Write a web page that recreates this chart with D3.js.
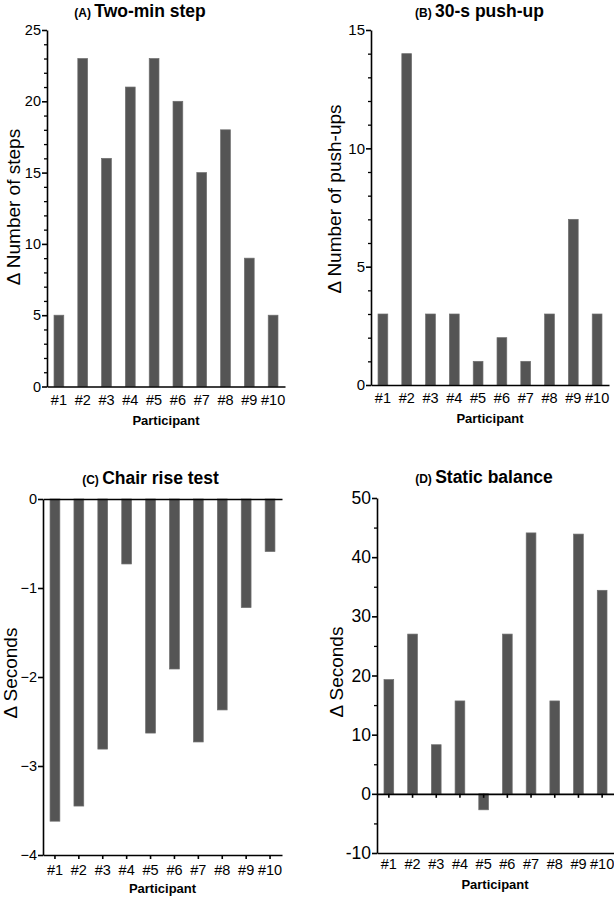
<!DOCTYPE html>
<html><head><meta charset="utf-8">
<script src="https://cdn.jsdelivr.net/npm/d3@7"></script>
<style>body{margin:0;background:#fff}svg{display:block;font-family:"Liberation Sans",Arial,sans-serif}</style>
</head><body><svg id="c" width="614" height="898"></svg>
<script>
const participants = ["#1","#2","#3","#4","#5","#6","#7","#8","#9","#10"];
const stepValues = [5,23,16,21,23,20,15,18,9,5];
const pushupValues = [3,14,3,3,1,2,1,3,7,3];
const chairValues = [-3.62,-3.45,-2.81,-0.73,-2.63,-1.91,-2.73,-2.37,-1.22,-0.59];
const balanceValues = [19.3,27,8.3,15.7,-2.7,27,44.1,15.7,43.9,34.4];
const stepTicks = [0,5,10,15,20,25];
const pushupTicks = [0,5,10,15];
const chairTicks = [0,-1,-2,-3,-4];
const balanceTicks = [-10,0,10,20,30,40,50];
const stepMinor = d3.range(0,26,1).filter(v=>v%5!==0);
const pushupMinor = d3.range(0,16,1).filter(v=>v%5!==0);
const chairMinor = [];
const balanceMinor = [-5,5,15,25,35,45];

const svg = d3.select("#c");
const FONT = "'Liberation Sans',Arial,sans-serif";
const hyphenFmt = d => String(d);
const minusFmt = d => (d < 0 ? "\u2212" + Math.abs(d) : String(d));
const panels = [
  {letter:"(A)", title:"Two-min step", ylab:"Δ Number of steps", values:stepValues, ticks:stepTicks, minor:stepMinor,
   domain:[0,25], x0:47, x1:285, yb:386.5, yt:30, tcx:140, tby:16.5, ylx:20, ylc:207, lcx:166, lby:425, xlabOff:8.5, mode:"zero", tfs:14.5, fmt:hyphenFmt},
  {letter:"(B)", title:"30-s push-up", ylab:"Δ Number of push-ups", values:pushupValues, ticks:pushupTicks, minor:pushupMinor,
   domain:[0,15], x0:371, x1:609, yb:385, yt:30, tcx:479.5, tby:16.5, ylx:341, ylc:199, lcx:490, lby:423, xlabOff:8, mode:"zero", tfs:15, fmt:hyphenFmt},
  {letter:"(C)", title:"Chair rise test", ylab:"Δ Seconds", values:chairValues, ticks:chairTicks, minor:chairMinor,
   domain:[-4,0], x0:43, x1:282, yb:855, yt:499, tcx:150.5, tby:484, ylx:17, ylc:673, lcx:162.5, lby:893, xlabOff:10, mode:"bottomTicks", tfs:14.5, fmt:minusFmt},
  {letter:"(D)", title:"Static balance", ylab:"Δ Seconds", values:balanceValues, ticks:balanceTicks, minor:balanceMinor,
   domain:[-10,50], x0:377, x1:614, yb:853, yt:498, tcx:484, tby:483, ylx:343, ylc:672, lcx:495, lby:889, xlabOff:6, mode:"zeroTicks", tfs:17.5, fmt:hyphenFmt}
];

panels.forEach(p => {
  const g = svg.append("g");
  const x = d3.scaleBand().domain(participants).range([p.x0, p.x1]).paddingInner(0.59).paddingOuter(0.295);
  const y = d3.scaleLinear().domain(p.domain).range([p.yb, p.yt]);

  g.selectAll("rect.bar").data(p.values).join("rect")
    .attr("class","bar")
    .attr("x",(d,i)=>x(participants[i]))
    .attr("width",x.bandwidth())
    .attr("y",d=>Math.min(y(d),y(0)))
    .attr("height",d=>Math.abs(y(d)-y(0)))
    .attr("fill","#555555")
    .attr("stroke","#6e6e6e").attr("stroke-width",0.7);

  if (p.minor.length) {
    const gm = g.append("g").attr("transform",`translate(${p.x0},0)`)
      .call(d3.axisLeft(y).tickValues(p.minor).tickSize(3).tickFormat(""));
    gm.select(".domain").remove();
    gm.selectAll("line").attr("stroke","#000").attr("stroke-width",1.3);
  }
  const gy = g.append("g").attr("transform",`translate(${p.x0},0)`)
    .call(d3.axisLeft(y).tickValues(p.ticks).tickSize(5).tickSizeOuter(0).tickPadding(1).tickFormat(p.fmt));
  gy.select(".domain").attr("stroke","#000").attr("stroke-width",1.6);
  gy.selectAll("line").attr("stroke","#000").attr("stroke-width",1.6);
  gy.selectAll("text").attr("font-size",p.tfs).attr("fill","#000").attr("font-family",FONT);

  const bottomY = y(p.domain[0]);
  const styleText = sel => sel.selectAll("text").attr("font-size",14.5).attr("fill","#000").attr("font-family",FONT);
  if (p.mode === "zero") {
    const gx = g.append("g").attr("transform",`translate(0,${y(0)})`)
      .call(d3.axisBottom(x).tickSize(0).tickSizeOuter(0).tickPadding(p.xlabOff));
    gx.select(".domain").attr("stroke","#000").attr("stroke-width",1.6);
    styleText(gx);
  } else if (p.mode === "bottomTicks") {
    const gz = g.append("g").attr("transform",`translate(0,${y(0)})`)
      .call(d3.axisBottom(x).tickSize(0).tickSizeOuter(0).tickFormat(""));
    gz.select(".domain").attr("stroke","#000").attr("stroke-width",1.6);
    const gx = g.append("g").attr("transform",`translate(0,${bottomY})`)
      .call(d3.axisBottom(x).tickSize(4).tickSizeOuter(0).tickPadding(6));
    gx.select(".domain").attr("stroke","#000").attr("stroke-width",1.6);
    gx.selectAll("line").attr("stroke","#000").attr("stroke-width",1.6);
    styleText(gx);
  } else {
    const gz = g.append("g").attr("transform",`translate(0,${y(0)})`)
      .call(d3.axisBottom(x).tickSize(4).tickSizeOuter(0).tickFormat(""));
    gz.select(".domain").attr("stroke","#000").attr("stroke-width",1.6);
    gz.selectAll("line").attr("stroke","#000").attr("stroke-width",1.6);
    const gx = g.append("g").attr("transform",`translate(0,${bottomY})`)
      .call(d3.axisBottom(x).tickSize(0).tickSizeOuter(0).tickPadding(p.xlabOff));
    gx.select(".domain").attr("stroke","#000").attr("stroke-width",1.6);
    styleText(gx);
  }

  const t = g.append("text").attr("x",p.tcx).attr("y",p.tby).attr("text-anchor","middle")
    .attr("font-weight","bold").attr("fill","#000");
  t.append("tspan").attr("font-size",12).text(p.letter + " ");
  t.append("tspan").attr("font-size",17.5).text(p.title);

  g.append("text").attr("x",p.lcx).attr("y",p.lby).attr("text-anchor","middle")
    .attr("font-weight","bold").attr("font-size",13).attr("fill","#000").text("Participant");

  g.append("text").attr("transform",`translate(${p.ylx},${p.ylc}) rotate(-90)`)
    .attr("text-anchor","middle").attr("font-size",19).attr("fill","#000").text(p.ylab);
});
</script>
</body></html>
